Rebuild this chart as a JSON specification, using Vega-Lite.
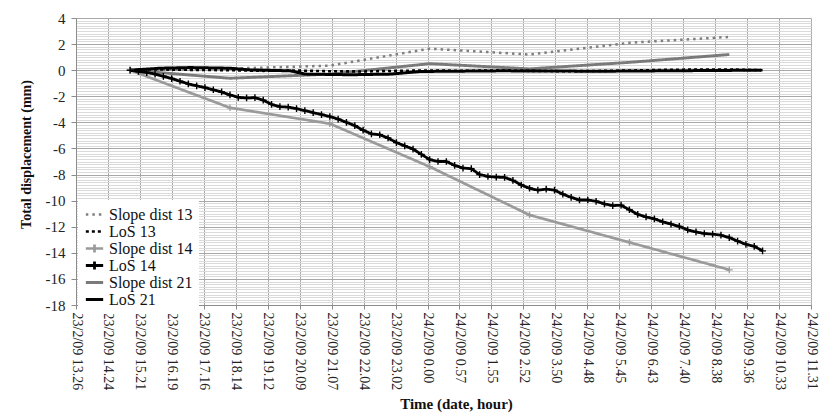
{
  "$schema": "https://vega.github.io/schema/vega-lite/v6.json",
  "width": 735,
  "height": 287,
  "autosize": {"type": "none"},
  "padding": {"left": 76, "top": 18, "right": 10, "bottom": 113},
  "background": "white",
  "config": {
    "font": "Times New Roman, Liberation Serif, DejaVu Serif, serif",
    "view": {"stroke": null},
    "axis": {"labelFont": "Times New Roman, Liberation Serif, DejaVu Serif, serif", "titleFont": "Times New Roman, Liberation Serif, DejaVu Serif, serif", "labelColor": "#222", "titleColor": "#111"},
    "legend": {"labelFont": "Times New Roman, Liberation Serif, DejaVu Serif, serif"}
  },
  "data": {"values": [
    {"s": "Slope dist 13", "h": 1.625, "v": 0},
    {"s": "Slope dist 13", "h": 4.625, "v": 0.12},
    {"s": "Slope dist 13", "h": 7.625, "v": 0.35},
    {"s": "Slope dist 13", "h": 10.625, "v": 1.65},
    {"s": "Slope dist 13", "h": 13.625, "v": 1.2},
    {"s": "Slope dist 13", "h": 16.625, "v": 2.1},
    {"s": "Slope dist 13", "h": 19.625, "v": 2.55},
    {"s": "Slope dist 21", "h": 1.625, "v": 0},
    {"s": "Slope dist 21", "h": 4.625, "v": -0.62},
    {"s": "Slope dist 21", "h": 7.625, "v": -0.3},
    {"s": "Slope dist 21", "h": 10.625, "v": 0.5},
    {"s": "Slope dist 21", "h": 13.625, "v": 0.1},
    {"s": "Slope dist 21", "h": 16.625, "v": 0.6},
    {"s": "Slope dist 21", "h": 19.625, "v": 1.2},
    {"s": "Slope dist 14", "h": 1.625, "v": 0},
    {"s": "Slope dist 14", "h": 4.625, "v": -2.88},
    {"s": "Slope dist 14", "h": 7.625, "v": -4.1},
    {"s": "Slope dist 14", "h": 10.625, "v": -7.4},
    {"s": "Slope dist 14", "h": 13.625, "v": -11.1},
    {"s": "Slope dist 14", "h": 16.625, "v": -13.2},
    {"s": "Slope dist 14", "h": 19.625, "v": -15.3},
    {"s": "LoS 21", "h": 1.625, "v": 0},
    {"s": "LoS 21", "h": 2.53, "v": 0.15},
    {"s": "LoS 21", "h": 3.43, "v": 0.2},
    {"s": "LoS 21", "h": 4.63, "v": 0.15},
    {"s": "LoS 21", "h": 5.24, "v": 0.02},
    {"s": "LoS 21", "h": 6.44, "v": -0.05},
    {"s": "LoS 21", "h": 6.89, "v": -0.3},
    {"s": "LoS 21", "h": 8.25, "v": -0.35},
    {"s": "LoS 21", "h": 9.45, "v": -0.3},
    {"s": "LoS 21", "h": 10.35, "v": -0.1},
    {"s": "LoS 21", "h": 12.76, "v": -0.05},
    {"s": "LoS 21", "h": 15.77, "v": -0.08},
    {"s": "LoS 21", "h": 18.78, "v": -0.03},
    {"s": "LoS 21", "h": 20.58, "v": 0},
    {"s": "LoS 13", "h": 1.625, "v": 0},
    {"s": "LoS 13", "h": 2.125, "v": 0.05},
    {"s": "LoS 13", "h": 2.625, "v": 0.05},
    {"s": "LoS 13", "h": 3.625, "v": 0.02},
    {"s": "LoS 13", "h": 4.625, "v": 0},
    {"s": "LoS 13", "h": 5.625, "v": -0.05},
    {"s": "LoS 13", "h": 6.625, "v": -0.03},
    {"s": "LoS 13", "h": 7.625, "v": -0.08},
    {"s": "LoS 13", "h": 8.625, "v": -0.1},
    {"s": "LoS 13", "h": 9.625, "v": -0.05},
    {"s": "LoS 13", "h": 10.625, "v": -0.02},
    {"s": "LoS 13", "h": 11.625, "v": -0.05},
    {"s": "LoS 13", "h": 12.625, "v": -0.02},
    {"s": "LoS 13", "h": 13.625, "v": -0.05},
    {"s": "LoS 13", "h": 14.625, "v": -0.08},
    {"s": "LoS 13", "h": 15.625, "v": -0.06},
    {"s": "LoS 13", "h": 16.625, "v": -0.03},
    {"s": "LoS 13", "h": 17.625, "v": 0.02},
    {"s": "LoS 13", "h": 18.625, "v": 0.05},
    {"s": "LoS 13", "h": 19.625, "v": 0.05},
    {"s": "LoS 13", "h": 20.625, "v": 0},
    {"s": "LoS  14", "h": 1.625, "v": 0},
    {"s": "LoS  14", "h": 1.875, "v": -0.1},
    {"s": "LoS  14", "h": 2.125, "v": -0.18},
    {"s": "LoS  14", "h": 2.375, "v": -0.3},
    {"s": "LoS  14", "h": 2.625, "v": -0.47},
    {"s": "LoS  14", "h": 2.875, "v": -0.64},
    {"s": "LoS  14", "h": 3.125, "v": -0.85},
    {"s": "LoS  14", "h": 3.375, "v": -1.05},
    {"s": "LoS  14", "h": 3.625, "v": -1.2},
    {"s": "LoS  14", "h": 3.875, "v": -1.33},
    {"s": "LoS  14", "h": 4.125, "v": -1.5},
    {"s": "LoS  14", "h": 4.375, "v": -1.67},
    {"s": "LoS  14", "h": 4.625, "v": -1.9},
    {"s": "LoS  14", "h": 4.875, "v": -2.08},
    {"s": "LoS  14", "h": 5.125, "v": -2.13},
    {"s": "LoS  14", "h": 5.375, "v": -2.1},
    {"s": "LoS  14", "h": 5.625, "v": -2.3},
    {"s": "LoS  14", "h": 5.875, "v": -2.62},
    {"s": "LoS  14", "h": 6.125, "v": -2.8},
    {"s": "LoS  14", "h": 6.375, "v": -2.83},
    {"s": "LoS  14", "h": 6.625, "v": -2.95},
    {"s": "LoS  14", "h": 6.875, "v": -3.1},
    {"s": "LoS  14", "h": 7.125, "v": -3.25},
    {"s": "LoS  14", "h": 7.375, "v": -3.4},
    {"s": "LoS  14", "h": 7.625, "v": -3.55},
    {"s": "LoS  14", "h": 7.875, "v": -3.75},
    {"s": "LoS  14", "h": 8.125, "v": -4.0},
    {"s": "LoS  14", "h": 8.375, "v": -4.25},
    {"s": "LoS  14", "h": 8.625, "v": -4.6},
    {"s": "LoS  14", "h": 8.875, "v": -4.88},
    {"s": "LoS  14", "h": 9.125, "v": -4.95},
    {"s": "LoS  14", "h": 9.375, "v": -5.2},
    {"s": "LoS  14", "h": 9.625, "v": -5.55},
    {"s": "LoS  14", "h": 9.875, "v": -5.8},
    {"s": "LoS  14", "h": 10.125, "v": -6.05},
    {"s": "LoS  14", "h": 10.375, "v": -6.45},
    {"s": "LoS  14", "h": 10.625, "v": -6.85},
    {"s": "LoS  14", "h": 10.875, "v": -7.0},
    {"s": "LoS  14", "h": 11.125, "v": -7.0},
    {"s": "LoS  14", "h": 11.375, "v": -7.3},
    {"s": "LoS  14", "h": 11.625, "v": -7.5},
    {"s": "LoS  14", "h": 11.875, "v": -7.55},
    {"s": "LoS  14", "h": 12.125, "v": -8.0},
    {"s": "LoS  14", "h": 12.375, "v": -8.15},
    {"s": "LoS  14", "h": 12.625, "v": -8.2},
    {"s": "LoS  14", "h": 12.875, "v": -8.22},
    {"s": "LoS  14", "h": 13.125, "v": -8.45},
    {"s": "LoS  14", "h": 13.375, "v": -8.8},
    {"s": "LoS  14", "h": 13.625, "v": -9.05},
    {"s": "LoS  14", "h": 13.875, "v": -9.2},
    {"s": "LoS  14", "h": 14.125, "v": -9.12},
    {"s": "LoS  14", "h": 14.375, "v": -9.2},
    {"s": "LoS  14", "h": 14.625, "v": -9.5},
    {"s": "LoS  14", "h": 14.875, "v": -9.75},
    {"s": "LoS  14", "h": 15.125, "v": -9.95},
    {"s": "LoS  14", "h": 15.375, "v": -9.95},
    {"s": "LoS  14", "h": 15.625, "v": -10.05},
    {"s": "LoS  14", "h": 15.875, "v": -10.25},
    {"s": "LoS  14", "h": 16.125, "v": -10.38},
    {"s": "LoS  14", "h": 16.375, "v": -10.35},
    {"s": "LoS  14", "h": 16.625, "v": -10.7},
    {"s": "LoS  14", "h": 16.875, "v": -11.05},
    {"s": "LoS  14", "h": 17.125, "v": -11.25},
    {"s": "LoS  14", "h": 17.375, "v": -11.4},
    {"s": "LoS  14", "h": 17.625, "v": -11.62},
    {"s": "LoS  14", "h": 17.875, "v": -11.8},
    {"s": "LoS  14", "h": 18.125, "v": -11.98},
    {"s": "LoS  14", "h": 18.375, "v": -12.24},
    {"s": "LoS  14", "h": 18.625, "v": -12.4},
    {"s": "LoS  14", "h": 18.875, "v": -12.52},
    {"s": "LoS  14", "h": 19.125, "v": -12.57},
    {"s": "LoS  14", "h": 19.375, "v": -12.65},
    {"s": "LoS  14", "h": 19.625, "v": -12.83},
    {"s": "LoS  14", "h": 19.875, "v": -13.1},
    {"s": "LoS  14", "h": 20.125, "v": -13.35},
    {"s": "LoS  14", "h": 20.375, "v": -13.5},
    {"s": "LoS  14", "h": 20.625, "v": -13.85}
  ]},
  "encoding": {
    "x": {
      "field": "h", "type": "quantitative",
      "scale": {"domain": [0, 22.08], "nice": false, "zero": false},
      "axis": {
        "title": "Time (date, hour)",
        "titleFontSize": 15, "titleFontWeight": "bold",
        "titleX": 380, "titleY": 98, "titleBaseline": "middle",
        "values": [0, 0.96, 1.92, 2.88, 3.84, 4.8, 5.76, 6.72, 7.68, 8.64, 9.6, 10.56, 11.52, 12.48, 13.44, 14.4, 15.36, 16.32, 17.28, 18.24, 19.2, 20.16, 21.12, 22.08],
        "labelExpr": "['23/2/09 13.26','23/2/09 14.24','23/2/09 15.21','23/2/09 16.19','23/2/09 17.16','23/2/09 18.14','23/2/09 19.12','23/2/09 20.09','23/2/09 21.07','23/2/09 22.04','23/2/09 23.02','24/2/09 0.00','24/2/09 0.57','24/2/09 1.55','24/2/09 2.52','24/2/09 3.50','24/2/09 4.48','24/2/09 5.45','24/2/09 6.43','24/2/09 7.40','24/2/09 8.38','24/2/09 9.36','24/2/09 10.33','24/2/09 11.31'][round(datum.value / 0.96)]",
        "labelAngle": 90, "labelAlign": "left", "labelBaseline": "middle",
        "labelFontSize": 14, "labelPadding": 3, "labelOverlap": false, "labelFlush": false,
        "tickSize": 4, "tickColor": "#8c8c8c", "domainColor": "#8c8c8c",
        "grid": true, "gridColor": "#a8a8a8", "gridWidth": 1
      }
    },
    "y": {
      "field": "v", "type": "quantitative",
      "scale": {"domain": [-18, 4], "nice": false, "zero": false},
      "axis": {
        "title": "Total displacement (mm)",
        "titleFontSize": 14, "titleFontWeight": "bold", "titlePadding": 12,
        "titleY": 136,
        "values": [-18,-17.8,-17.6,-17.4,-17.2,-17,-16.8,-16.6,-16.4,-16.2,-16,-15.8,-15.6,-15.4,-15.2,-15,-14.8,-14.6,-14.4,-14.2,-14,-13.8,-13.6,-13.4,-13.2,-13,-12.8,-12.6,-12.4,-12.2,-12,-11.8,-11.6,-11.4,-11.2,-11,-10.8,-10.6,-10.4,-10.2,-10,-9.8,-9.6,-9.4,-9.2,-9,-8.8,-8.6,-8.4,-8.2,-8,-7.8,-7.6,-7.4,-7.2,-7,-6.8,-6.6,-6.4,-6.2,-6,-5.8,-5.6,-5.4,-5.2,-5,-4.8,-4.6,-4.4,-4.2,-4,-3.8,-3.6,-3.4,-3.2,-3,-2.8,-2.6,-2.4,-2.2,-2,-1.8,-1.6,-1.4,-1.2,-1,-0.8,-0.6,-0.4,-0.2,0,0.2,0.4,0.6,0.8,1,1.2,1.4,1.6,1.8,2,2.2,2.4,2.6,2.8,3,3.2,3.4,3.6,3.8,4],
        "labelExpr": "abs(datum.value % 2) < 0.001 ? '' + datum.value : ''",
        "labelFontSize": 15, "labelPadding": 6, "labelOverlap": false, "labelFlush": false,
        "tickSize": 5,
        "tickColor": {"condition": {"test": "abs(datum.value % 2) < 0.001", "value": "#8c8c8c"}, "value": "transparent"},
        "domainColor": "#8c8c8c",
        "grid": true, "gridWidth": 1,
        "gridColor": {"condition": {"test": "abs(datum.value % 2) < 0.001", "value": "#a8a8a8"}, "value": "#dadada"}
      }
    }
  },
  "layer": [
    {
      "mark": {"type": "line", "interpolate": "linear"},
      "encoding": {
        "color": {
          "field": "s", "type": "nominal",
          "scale": {"domain": ["Slope dist 13", "LoS 13", "Slope dist 14", "LoS  14", "Slope dist 21", "LoS 21"],
                    "range": ["#7f7f7f", "#000000", "#9a9a9a", "#000000", "#7a7a7a", "#000000"]},
          "legend": {
            "title": null, "orient": "none", "legendX": 2, "legendY": 182,
            "fillColor": "white", "padding": 6,
            "labelFontSize": 16, "labelColor": "#111",
            "labelOffset": 4, "symbolSize": 300, "symbolStrokeWidth": 2, "rowPadding": 0, "clipHeight": 17,
            "symbolType": "stroke",
            "encode": {"symbols": {"update": {"shape": {"signal": "indexof(datum.value, '14') >= 0 ? 'M-1,0H1M0,-0.45V0.45' : 'M-1,0H1'"}}}}
          }
        },
        "strokeDash": {
          "field": "s", "type": "nominal",
          "scale": {"domain": ["Slope dist 13", "LoS 13", "Slope dist 14", "LoS  14", "Slope dist 21", "LoS 21"],
                    "range": [[2.5, 4], [3, 3], [1, 0], [1, 0], [1, 0], [1, 0]]},
          "legend": {"title": null, "orient": "none", "legendX": 2, "legendY": 182,
            "fillColor": "white", "padding": 6,
            "labelFontSize": 16, "labelColor": "#111",
            "labelOffset": 4, "symbolSize": 300, "symbolStrokeWidth": 2, "rowPadding": 0, "clipHeight": 17,
            "symbolType": "stroke"}
        },
        "strokeWidth": {
          "field": "s", "type": "ordinal",
          "scale": {"domain": ["Slope dist 13", "LoS 13", "Slope dist 14", "LoS  14", "Slope dist 21", "LoS 21"],
                    "range": [2.5, 3, 1.8, 2, 2.5, 2]},
          "legend": null
        },
        "order": {"field": "h", "type": "quantitative"}
      }
    },
    {
      "transform": [{"filter": "datum.s == 'Slope dist 14'"}],
      "mark": {"type": "point", "shape": "M-1,0H1M0,-1V1", "filled": false, "color": "#9a9a9a", "size": 45, "strokeWidth": 1.3, "opacity": 1}
    },
    {
      "transform": [{"filter": "datum.s == 'LoS  14'"}],
      "mark": {"type": "point", "shape": "M-1,0H1M0,-1V1", "filled": false, "color": "#000000", "size": 45, "strokeWidth": 1.4, "opacity": 1}
    }
  ]
}
